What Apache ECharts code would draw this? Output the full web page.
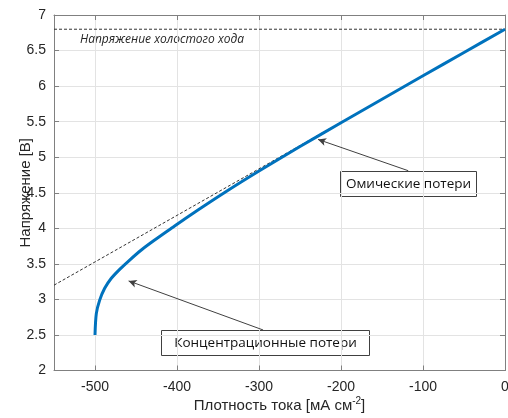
<!DOCTYPE html>
<html>
<head>
<meta charset="utf-8">
<script src="https://cdn.jsdelivr.net/npm/echarts@6/dist/echarts.min.js"></script>
<style>
	html, body { margin: 0; padding: 0; background: #fff; }
	#chart { width: 508px; height: 418px; }
</style>
</head>
<body>
<div id="chart"></div>
<script>
	// polarization curve
	var currentDensity = [-500, -498.4, -494.3, -488.2, -480.1, -469.9, -457.7, -443.5, -427.2, -406.9, -386.6, -340, -300, -250, -200, -150, -100, -50, 0];
	var voltage = [2.50, 2.80, 2.99, 3.156, 3.297, 3.423, 3.554, 3.695, 3.835, 4.0, 4.163, 4.517, 4.805, 5.15, 5.485, 5.816, 6.145, 6.473, 6.80];

	// ohmic asymptote and open circuit voltage
	var ohmicX = [-550, 0];
	var ohmicY = [3.2, 6.8];
	var ocvX = [-550, 0];
	var ocvY = [6.8, 6.8];

	// annotation arrows: [tail, head]
	var ohmicArrow = [[-118, 4.81], [-228, 5.25]];
	var concArrow = [[-295, 2.57], [-459, 3.26]];

	var xTicks = [-500, -400, -300, -200, -100, 0];

	function pairs(xs, ys) {
		var out = [];
		for (var i = 0; i < xs.length; i++) out.push([xs[i], ys[i]]);
		return out;
	}

	var axisGray = '#808080';
	var textColor = '#262626';

	var chart = echarts.init(document.getElementById('chart'));

	var option = {
		animation: false,
		grid: { left: 54, right: 3, top: 15, bottom: 47.5, outerBoundsMode: 'none', containLabel: false },
		xAxis: [
			{
				type: 'value', min: -550, max: 0,
				name: 'Плотность тока [мА см{sup|-2}]',
				nameLocation: 'middle', nameGap: 26, nameMoveOverlap: false,
				nameTextStyle: {
					fontFamily: 'Liberation Sans', fontSize: 15, color: textColor,
					rich: { sup: { fontFamily: 'Liberation Sans', fontSize: 10, color: textColor, padding: [0, 0, 9, 0] } }
				},
				axisLine: { onZero: false, lineStyle: { color: axisGray, width: 1 } },
				axisTick: { inside: true, length: 5, customValues: xTicks, lineStyle: { color: axisGray } },
				axisLabel: { customValues: xTicks, margin: 10, fontFamily: 'Liberation Sans', fontSize: 14, color: textColor },
				splitLine: { show: true, lineStyle: { color: '#e3e3e3', width: 1 } }
			},
			{
				type: 'value', min: -550, max: 0, position: 'top',
				axisLine: { onZero: false, lineStyle: { color: axisGray, width: 1 } },
				axisTick: { inside: true, length: 5, customValues: xTicks, lineStyle: { color: axisGray } },
				axisLabel: { show: false },
				splitLine: { show: false }
			}
		],
		yAxis: [
			{
				type: 'value', min: 2, max: 7, interval: 0.5,
				name: 'Напряжение [В]',
				nameLocation: 'middle', nameGap: 21, nameMoveOverlap: false,
				nameTextStyle: { fontFamily: 'Liberation Sans', fontSize: 15, color: textColor },
				axisLine: { show: true, onZero: false, lineStyle: { color: axisGray, width: 1 } },
				axisTick: { show: true, inside: true, length: 5, lineStyle: { color: axisGray } },
				axisLabel: { margin: 8, fontFamily: 'Liberation Sans', fontSize: 14, color: textColor },
				splitLine: { show: true, lineStyle: { color: '#e3e3e3', width: 1 } }
			},
			{
				type: 'value', min: 2, max: 7, interval: 0.5, position: 'right',
				axisLine: { show: true, onZero: false, lineStyle: { color: axisGray, width: 1 } },
				axisTick: { show: true, inside: true, length: 5, lineStyle: { color: axisGray } },
				axisLabel: { show: false },
				splitLine: { show: false }
			}
		],
		series: [
			{
				name: 'ocv',
				type: 'line',
				data: pairs(ocvX, ocvY),
				symbol: 'none',
				lineStyle: { color: '#333', width: 1, type: [3, 2] },
				silent: true
			},
			{
				name: 'ohmic',
				type: 'line',
				data: pairs(ohmicX, ohmicY),
				symbol: 'none',
				lineStyle: { color: '#333', width: 1, type: [3, 2] },
				silent: true,
				markLine: {
					silent: true,
					symbol: ['none', 'arrow'],
					symbolSize: [6, 8],
					label: { show: false },
					lineStyle: { color: '#404040', width: 1, type: 'solid' },
					data: [
						[{ coord: ohmicArrow[0] }, { coord: ohmicArrow[1] }],
						[{ coord: concArrow[0] }, { coord: concArrow[1] }]
					]
				}
			},
			{
				name: 'curve',
				type: 'line',
				data: pairs(currentDensity, voltage),
				symbol: 'none',
				smooth: 0.3,
				lineStyle: { color: '#0072BD', width: 3 },
				silent: true
			}
		],
		graphic: [
			{
				type: 'text', left: 80, top: 34,
				style: { text: 'Напряжение холостого хода', font: 'italic 12px "Open Sans"', fill: '#262626' }
			},
			{
				type: 'rect', shape: { x: 340.5, y: 171.5, width: 136, height: 25 },
				style: { fill: '#fff', stroke: '#404040', lineWidth: 1 }
			},
			{
				type: 'text', x: 408.5, y: 184,
				style: { text: 'Омические потери', font: '13.5px "Open Sans"', fill: '#111', align: 'center', verticalAlign: 'middle' }
			},
			{
				type: 'rect', shape: { x: 161.5, y: 330.5, width: 208, height: 25 },
				style: { fill: '#fff', stroke: '#404040', lineWidth: 1 }
			},
			{
				type: 'text', x: 265.5, y: 343,
				style: { text: 'Концентрационные потери', font: '13.5px "Open Sans"', fill: '#111', align: 'center', verticalAlign: 'middle' }
			}
		]
	};

	chart.setOption(option);
</script>
</body>
</html>
